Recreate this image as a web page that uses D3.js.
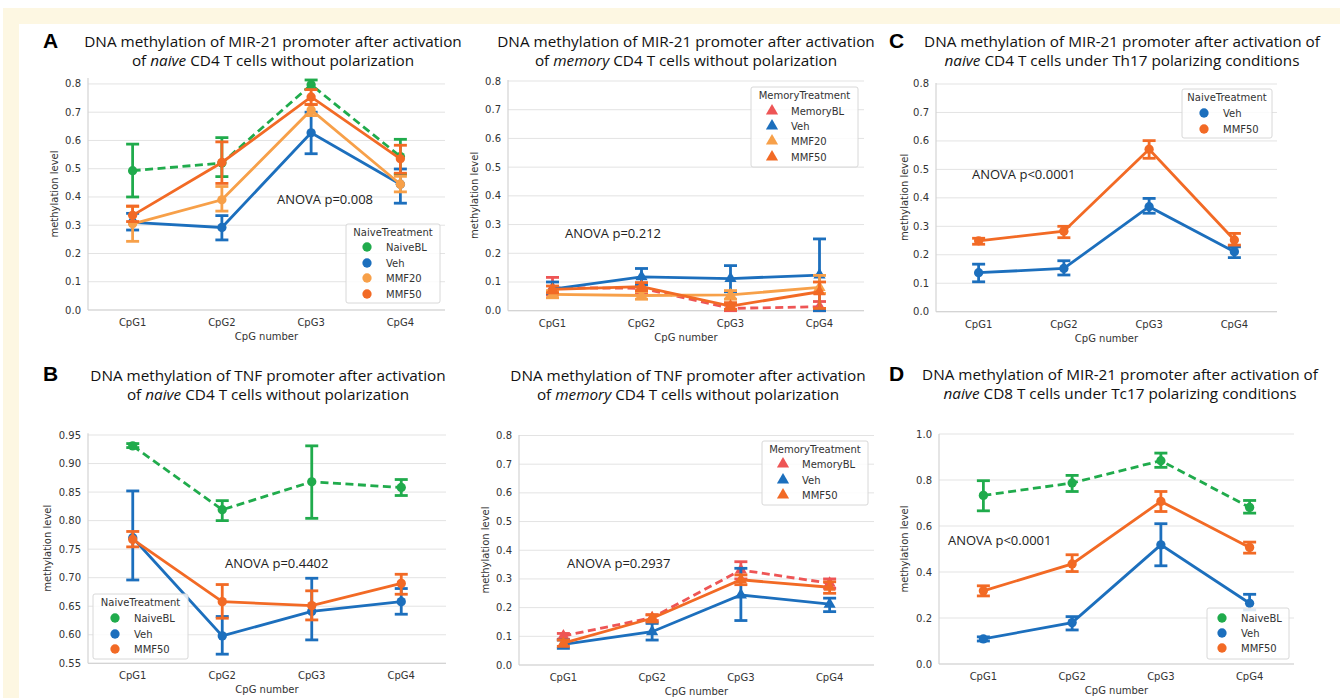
<!DOCTYPE html>
<html>
<head>
<meta charset="utf-8">
<script src="https://cdn.jsdelivr.net/npm/d3@7"></script>
<style>
  html, body { margin: 0; padding: 0; background: #fff; }
  svg { display: block; }
  .tick-lbl { font-family: "DejaVu Sans", sans-serif; font-size: 10px; fill: #333; }
  .ttl { font-family: "Open Sans", sans-serif; font-size: 15.3px; fill: #111; }
  .anova { font-family: "Open Sans", sans-serif; font-size: 13px; fill: #222; }
  .plet { font-family: "Liberation Sans", Arial, sans-serif; font-size: 21px; font-weight: bold; fill: #000; }
</style>
</head>
<body>
<svg id="fig" width="1340" height="698"></svg>
<script>
// ── data ───────────────────────────────────────────────────
const cpgLabels = ["CpG1", "CpG2", "CpG3", "CpG4"];

// A: MIR-21, naive CD4, no polarization
const aNaiveBL   = [0.493, 0.520, 0.797, 0.543];
const aNaiveBLLo = [0.400, 0.472, 0.780, 0.480];
const aNaiveBLHi = [0.587, 0.610, 0.814, 0.604];
const aVeh       = [0.310, 0.292, 0.627, 0.445];
const aVehLo     = [0.283, 0.248, 0.553, 0.378];
const aVehHi     = [0.342, 0.334, 0.700, 0.499];
const aMMF20     = [0.305, 0.390, 0.708, 0.445];
const aMMF20Lo   = [0.243, 0.350, 0.688, 0.418];
const aMMF20Hi   = [0.366, 0.437, 0.728, 0.473];
const aMMF50     = [0.335, 0.522, 0.754, 0.535];
const aMMF50Lo   = [0.313, 0.448, 0.727, 0.484];
const aMMF50Hi   = [0.368, 0.595, 0.780, 0.583];

// A right: MIR-21, memory CD4
const mBL       = [0.080, 0.078, 0.008, 0.014];
const mBLLo     = [0.055, 0.060, 0.000, 0.000];
const mBLHi     = [0.116, 0.095, 0.020, 0.032];
const mVeh      = [0.075, 0.118, 0.112, 0.124];
const mVehLo    = [0.060, 0.090, 0.066, 0.000];
const mVehHi    = [0.100, 0.147, 0.157, 0.250];
const mMMF20    = [0.057, 0.053, 0.055, 0.081];
const mMMF20Lo  = [0.045, 0.040, 0.040, 0.060];
const mMMF20Hi  = [0.070, 0.066, 0.070, 0.123];
const mMMF50    = [0.074, 0.084, 0.016, 0.066];
const mMMF50Lo  = [0.062, 0.070, 0.005, 0.008];
const mMMF50Hi  = [0.086, 0.098, 0.028, 0.100];

// C: MIR-21, naive CD4, Th17
const cVeh      = [0.137, 0.152, 0.369, 0.211];
const cVehLo    = [0.105, 0.129, 0.346, 0.190];
const cVehHi    = [0.167, 0.179, 0.398, 0.228];
const cMMF50    = [0.249, 0.283, 0.571, 0.252];
const cMMF50Lo  = [0.237, 0.260, 0.539, 0.234];
const cMMF50Hi  = [0.258, 0.300, 0.601, 0.275];

// B: TNF, naive CD4
const bNaiveBL   = [0.931, 0.819, 0.868, 0.858];
const bNaiveBLLo = [0.928, 0.800, 0.804, 0.844];
const bNaiveBLHi = [0.935, 0.835, 0.931, 0.872];
const bVeh       = [0.770, 0.598, 0.641, 0.658];
const bVehLo     = [0.696, 0.566, 0.591, 0.636];
const bVehHi     = [0.852, 0.632, 0.699, 0.681];
const bMMF50     = [0.767, 0.658, 0.651, 0.690];
const bMMF50Lo   = [0.754, 0.629, 0.626, 0.671];
const bMMF50Hi   = [0.781, 0.688, 0.677, 0.706];

// B right: TNF, memory CD4
const nBL       = [0.101, 0.165, 0.331, 0.285];
const nBLLo     = [0.090, 0.155, 0.300, 0.267];
const nBLHi     = [0.110, 0.175, 0.360, 0.300];
const nVeh      = [0.072, 0.116, 0.244, 0.212];
const nVehLo    = [0.058, 0.087, 0.155, 0.186];
const nVehHi    = [0.087, 0.145, 0.337, 0.233];
const nMMF50    = [0.076, 0.163, 0.297, 0.271];
const nMMF50Lo  = [0.065, 0.150, 0.280, 0.250];
const nMMF50Hi  = [0.087, 0.175, 0.314, 0.290];

// D: MIR-21, naive CD8, Tc17
const dNaiveBL   = [0.733, 0.787, 0.884, 0.681];
const dNaiveBLLo = [0.666, 0.750, 0.855, 0.656];
const dNaiveBLHi = [0.797, 0.820, 0.917, 0.711];
const dVeh       = [0.109, 0.180, 0.518, 0.264];
const dVehLo     = [0.100, 0.148, 0.427, 0.235];
const dVehHi     = [0.118, 0.206, 0.610, 0.303];
const dMMF50     = [0.318, 0.435, 0.707, 0.507];
const dMMF50Lo   = [0.296, 0.402, 0.663, 0.482];
const dMMF50Hi   = [0.340, 0.475, 0.750, 0.530];

const anovaLabels = ["ANOVA p=0.008", "ANOVA p=0.212", "ANOVA p<0.0001",
                     "ANOVA p=0.4402", "ANOVA p=0.2937", "ANOVA p<0.0001"];

// ── styling ────────────────────────────────────────────────
const COL = {
  NaiveBL: "#20ab4c",
  MemoryBL: "#ee5555",
  Veh: "#1c6fbd",
  MMF20: "#f7a049",
  MMF50: "#f26a25"
};

const svg = d3.select("#fig");

// cream frame
svg.append("rect").attr("x", 3).attr("y", 8).attr("width", 1337).attr("height", 690).attr("fill", "#fdf7e2");
svg.append("rect").attr("x", 19).attr("y", 24).attr("width", 1321).attr("height", 674).attr("fill", "#fff");

function ser(name, mean, lo, hi, dashed) {
  return { name, mean, lo, hi, dashed: !!dashed, color: COL[name] };
}

const panels = [
  {
    letter: "A", letterX: 43, letterY: 48,
    title: [["DNA methylation of MIR-21 promoter after activation"], ["of ", ["naive"], " CD4 T cells without polarization"]],
    titleX: 273, titleY: 47,
    x0: 88, x1: 445, yBot: 310, yTop: 78, dom: [0, 0.821], ticks: d3.range(0, 0.81, 0.1), fmt: ".1f",
    ylabX: 54, anova: anovaLabels[0], ax: 277, ay: 204, marker: "circle",
    series: [ser("NaiveBL", aNaiveBL, aNaiveBLLo, aNaiveBLHi, true), ser("Veh", aVeh, aVehLo, aVehHi),
             ser("MMF20", aMMF20, aMMF20Lo, aMMF20Hi), ser("MMF50", aMMF50, aMMF50Lo, aMMF50Hi)],
    legend: { title: "NaiveTreatment", x: 346, y: 224, w: 94, h: 79, titleY: 236, rows: [247, 263, 278, 294], mx: 367, tx: 386 }
  },
  {
    title: [["DNA methylation of MIR-21 promoter after activation"], ["of ", ["memory"], " CD4 T cells without polarization"]],
    titleX: 686, titleY: 47,
    x0: 508, x1: 864, yBot: 310.7, yTop: 80, dom: [0, 0.8035], ticks: d3.range(0, 0.81, 0.1), fmt: ".1f",
    ylabX: 474, anova: anovaLabels[1], ax: 565, ay: 238, marker: "triangle",
    series: [ser("MemoryBL", mBL, mBLLo, mBLHi, true), ser("Veh", mVeh, mVehLo, mVehHi),
             ser("MMF20", mMMF20, mMMF20Lo, mMMF20Hi), ser("MMF50", mMMF50, mMMF50Lo, mMMF50Hi)],
    legend: { title: "MemoryTreatment", x: 751, y: 87, w: 107, h: 80, titleY: 99, rows: [111, 126, 141, 157], mx: 772, tx: 791 }
  },
  {
    letter: "C", letterX: 889, letterY: 48,
    title: [["DNA methylation of MIR-21 promoter after activation of"], [["naive"], " CD4 T cells under Th17 polarizing conditions"]],
    titleX: 1122, titleY: 47,
    x0: 936, x1: 1277, yBot: 311.7, yTop: 83, dom: [0, 0.8035], ticks: d3.range(0, 0.81, 0.1), fmt: ".1f",
    ylabX: 904, anova: anovaLabels[2], ax: 972, ay: 179, marker: "circle",
    series: [ser("Veh", cVeh, cVehLo, cVehHi), ser("MMF50", cMMF50, cMMF50Lo, cMMF50Hi)],
    legend: { title: "NaiveTreatment", x: 1182, y: 89, w: 90, h: 49, titleY: 101, rows: [113, 129], mx: 1204, tx: 1223 }
  },
  {
    letter: "B", letterX: 43, letterY: 381,
    title: [["DNA methylation of TNF promoter after activation"], ["of ", ["naive"], " CD4 T cells without polarization"]],
    titleX: 268, titleY: 381,
    x0: 88, x1: 446, yBot: 663.3, yTop: 433.3, dom: [0.55, 0.953], ticks: d3.range(0.55, 0.951, 0.05), fmt: ".2f",
    ylabX: 47, anova: anovaLabels[3], ax: 225, ay: 568, marker: "circle",
    series: [ser("NaiveBL", bNaiveBL, bNaiveBLLo, bNaiveBLHi, true), ser("Veh", bVeh, bVehLo, bVehHi),
             ser("MMF50", bMMF50, bMMF50Lo, bMMF50Hi)],
    legend: { title: "NaiveTreatment", x: 93, y: 594, w: 95, h: 65, titleY: 606, rows: [618, 634, 649], mx: 115, tx: 134 }
  },
  {
    title: [["DNA methylation of TNF promoter after activation"], ["of ", ["memory"], " CD4 T cells without polarization"]],
    titleX: 688, titleY: 381,
    x0: 519, x1: 874, yBot: 665, yTop: 435, dom: [0, 0.8017], ticks: d3.range(0, 0.81, 0.1), fmt: ".1f",
    ylabX: 485, anova: anovaLabels[4], ax: 567, ay: 568, marker: "triangle",
    series: [ser("MemoryBL", nBL, nBLLo, nBLHi, true), ser("Veh", nVeh, nVehLo, nVehHi),
             ser("MMF50", nMMF50, nMMF50Lo, nMMF50Hi)],
    legend: { title: "MemoryTreatment", x: 762, y: 441, w: 106, h: 64, titleY: 453, rows: [464, 480, 495], mx: 783, tx: 802 }
  },
  {
    letter: "D", letterX: 889, letterY: 381,
    title: [["DNA methylation of MIR-21 promoter after activation of"], [["naive"], " CD8 T cells under Tc17 polarizing conditions"]],
    titleX: 1120, titleY: 380,
    x0: 939, x1: 1294, yBot: 664, yTop: 434, dom: [0, 1.0], ticks: d3.range(0, 1.01, 0.2), fmt: ".1f",
    ylabX: 904, anova: anovaLabels[5], ax: 948, ay: 545, marker: "circle",
    series: [ser("NaiveBL", dNaiveBL, dNaiveBLLo, dNaiveBLHi, true), ser("Veh", dVeh, dVehLo, dVehHi),
             ser("MMF50", dMMF50, dMMF50Lo, dMMF50Hi)],
    legend: { title: null, x: 1207, y: 608, w: 82, h: 51, rows: [618, 633, 648], mx: 1222, tx: 1241 }
  }
];

function markerPath(kind, size) {
  return d3.symbol().type(kind === "triangle" ? d3.symbolTriangle : d3.symbolCircle).size(size)();
}

function drawPanel(p) {
  const g = svg.append("g");
  const x = d3.scalePoint().domain(cpgLabels).range([p.x0, p.x1]).padding(0.5);
  const y = d3.scaleLinear().domain(p.dom).range([p.yBot, p.yTop]);

  // grid
  g.selectAll(".grid").data(p.ticks).join("line")
    .attr("x1", p.x0).attr("x2", p.x1)
    .attr("y1", d => y(d)).attr("y2", d => y(d))
    .attr("stroke", "#e3e3e3").attr("stroke-width", 1);

  // spines
  g.append("line").attr("x1", p.x0).attr("x2", p.x0).attr("y1", p.yTop).attr("y2", p.yBot)
    .attr("stroke", "#d4d4d4").attr("stroke-width", 1.2);
  g.append("line").attr("x1", p.x0).attr("x2", p.x1).attr("y1", p.yBot).attr("y2", p.yBot)
    .attr("stroke", "#d4d4d4").attr("stroke-width", 1.2);

  // tick labels
  g.selectAll(".yt").data(p.ticks).join("text").attr("class", "tick-lbl")
    .attr("x", p.x0 - 7).attr("y", d => y(d)).attr("dy", "0.35em")
    .attr("text-anchor", "end").text(d => d3.format(p.fmt)(d));
  g.selectAll(".xt").data(cpgLabels).join("text").attr("class", "tick-lbl")
    .attr("x", d => x(d)).attr("y", p.yBot + 16)
    .attr("text-anchor", "middle").text(d => d);

  g.append("text").attr("class", "tick-lbl").attr("x", (p.x0 + p.x1) / 2).attr("y", p.yBot + 30)
    .attr("text-anchor", "middle").text("CpG number");
  g.append("text").attr("class", "tick-lbl")
    .attr("transform", `translate(${p.ylabX},${(p.yTop + p.yBot) / 2}) rotate(-90)`)
    .attr("text-anchor", "middle").attr("dy", "0.35em").text("methylation level");

  // series
  const line = d3.line().x((d, i) => x(cpgLabels[i])).y(d => y(d));
  p.series.forEach(s => {
    const sg = g.append("g");
    sg.append("path").attr("d", line(s.mean)).attr("fill", "none")
      .attr("stroke", s.color).attr("stroke-width", 2.8)
      .attr("stroke-dasharray", s.dashed ? "8,4.5" : null);
    const eb = sg.selectAll(".eb").data(s.mean).join("g");
    eb.append("line")
      .attr("x1", (d, i) => x(cpgLabels[i])).attr("x2", (d, i) => x(cpgLabels[i]))
      .attr("y1", (d, i) => y(s.lo[i])).attr("y2", (d, i) => y(s.hi[i]))
      .attr("stroke", s.color).attr("stroke-width", 2.8);
    ["lo", "hi"].forEach(k => {
      eb.append("line")
        .attr("x1", (d, i) => x(cpgLabels[i]) - 6.5).attr("x2", (d, i) => x(cpgLabels[i]) + 6.5)
        .attr("y1", (d, i) => y(s[k][i])).attr("y2", (d, i) => y(s[k][i]))
        .attr("stroke", s.color).attr("stroke-width", 2.8);
    });
    sg.selectAll(".pt").data(s.mean).join("path")
      .attr("d", markerPath(p.marker, p.marker === "triangle" ? 64 : 68))
      .attr("transform", (d, i) => `translate(${x(cpgLabels[i])},${y(d)})`)
      .attr("fill", s.color);
  });

  // anova text
  g.append("text").attr("class", "anova").attr("x", p.ax).attr("y", p.ay).text(p.anova);

  // legend
  const L = p.legend;
  g.append("rect").attr("x", L.x).attr("y", L.y).attr("width", L.w).attr("height", L.h)
    .attr("rx", 2).attr("fill", "#fff").attr("fill-opacity", 0.85)
    .attr("stroke", "#d8d8d8").attr("stroke-width", 1);
  if (L.title) {
    g.append("text").attr("class", "tick-lbl").attr("x", L.x + L.w / 2).attr("y", L.titleY)
      .attr("text-anchor", "middle").text(L.title);
  }
  p.series.forEach((s, i) => {
    g.append("path").attr("d", markerPath(p.marker, p.marker === "triangle" ? 64 : 68))
      .attr("transform", `translate(${L.mx},${L.rows[i]})`).attr("fill", s.color);
    g.append("text").attr("class", "tick-lbl").attr("x", L.tx).attr("y", L.rows[i]).attr("dy", "0.35em")
      .text(s.name);
  });

  // title
  p.title.forEach((parts, li) => {
    const t = g.append("text").attr("class", "ttl").attr("x", p.titleX).attr("y", p.titleY + li * 19)
      .attr("text-anchor", "middle");
    parts.forEach(part => {
      if (Array.isArray(part)) t.append("tspan").attr("font-style", "italic").text(part[0]);
      else t.append("tspan").text(part);
    });
  });

  if (p.letter) {
    g.append("text").attr("class", "plet").attr("x", p.letterX).attr("y", p.letterY).text(p.letter);
  }
}

panels.forEach(drawPanel);
</script>
</body>
</html>
